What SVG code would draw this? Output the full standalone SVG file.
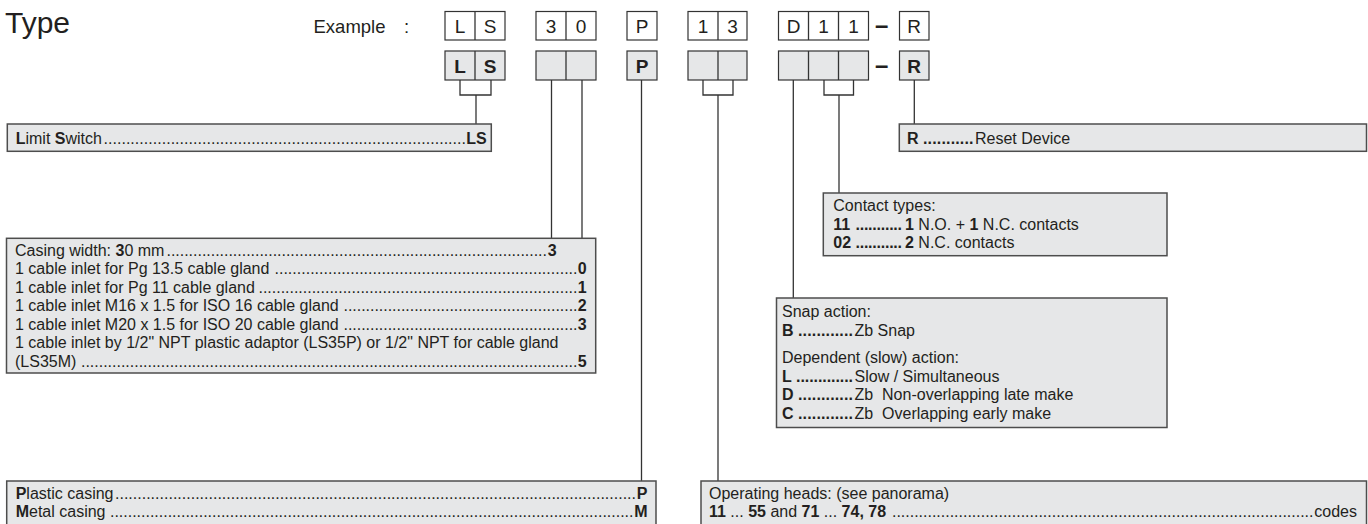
<svg xmlns="http://www.w3.org/2000/svg" width="1368" height="524" viewBox="0 0 1368 524">
<style>
.t{font-family:"Liberation Sans",Arial,sans-serif;font-size:16px;fill:#231f20}
.b{font-weight:bold}
.h{font-family:"Liberation Sans",Arial,sans-serif;font-size:19px;fill:#231f20;text-anchor:middle}
.box{fill:#e6e7e8;stroke:#4d4d4d;stroke-width:1.5}
.c1{fill:#ffffff;stroke:#333333;stroke-width:1.2}
.c2{fill:#e6e7e8;stroke:#333333;stroke-width:1.2}
.conn{stroke:#333333;stroke-width:1.3;fill:none}
.e{text-anchor:end}
</style>
<rect width="1368" height="524" fill="#ffffff"/>
<g id="title">
<text x="5" y="33" style="font-family:'Liberation Sans',Arial,sans-serif;font-size:30px;fill:#231f20">Type</text>
<text x="313.5" y="33.3" style="font-family:'Liberation Sans',Arial,sans-serif;font-size:18.5px;fill:#231f20">Example<tspan x="404">:</tspan></text>
</g>
<g id="example-row">
<rect class="c1" x="445" y="11.5" width="60" height="28.5"/><line class="conn" x1="475" y1="11.5" x2="475" y2="40"/>
<text class="h" x="460" y="33">L</text><text class="h" x="490" y="33">S</text>
<rect class="c1" x="536" y="11.5" width="60" height="28.5"/><line class="conn" x1="566" y1="11.5" x2="566" y2="40"/>
<text class="h" x="551" y="33">3</text><text class="h" x="581" y="33">0</text>
<rect class="c1" x="627" y="11.5" width="30" height="28.5"/>
<text class="h" x="642" y="33">P</text>
<rect class="c1" x="688" y="11.5" width="59" height="28.5"/><line class="conn" x1="718" y1="11.5" x2="718" y2="40"/>
<text class="h" x="703" y="33">1</text><text class="h" x="732.5" y="33">3</text>
<rect class="c1" x="778.5" y="11.5" width="90" height="28.5"/><line class="conn" x1="808.5" y1="11.5" x2="808.5" y2="40"/><line class="conn" x1="838.5" y1="11.5" x2="838.5" y2="40"/>
<text class="h" x="793.5" y="33">D</text><text class="h" x="823.5" y="33">1</text><text class="h" x="853.5" y="33">1</text>
<text class="h b" x="881.7" y="32.8" style="font-size:24px">–</text>
<rect class="c1" x="899.5" y="11.5" width="29.5" height="28.5"/>
<text class="h" x="914.2" y="33">R</text>
</g>
<g id="code-row">
<rect class="c2" x="445" y="51" width="60" height="29"/><line class="conn" x1="475" y1="51" x2="475" y2="80"/>
<text class="h b" x="460" y="73">L</text><text class="h b" x="490" y="73">S</text>
<rect class="c2" x="536" y="51" width="60" height="29"/><line class="conn" x1="566" y1="51" x2="566" y2="80"/>
<rect class="c2" x="627" y="51" width="30" height="29"/>
<text class="h b" x="642" y="73">P</text>
<rect class="c2" x="688" y="51" width="59" height="29"/><line class="conn" x1="718" y1="51" x2="718" y2="80"/>
<rect class="c2" x="778.5" y="51" width="90" height="29"/><line class="conn" x1="808.5" y1="51" x2="808.5" y2="80"/><line class="conn" x1="838.5" y1="51" x2="838.5" y2="80"/>
<text class="h b" x="881.7" y="72.8" style="font-size:24px">–</text>
<rect class="c2" x="899.5" y="51" width="29.5" height="29"/>
<text class="h b" x="914.2" y="73">R</text>
</g>
<g id="connectors">
<polyline class="conn" points="460,80 460,95 491,95 491,80"/>
<line class="conn" x1="476" y1="95" x2="476" y2="124"/>
<line class="conn" x1="551.5" y1="80" x2="551.5" y2="238"/>
<line class="conn" x1="582" y1="80" x2="582" y2="238"/>
<line class="conn" x1="641.5" y1="80" x2="641.5" y2="481"/>
<polyline class="conn" points="703,80 703,95 733,95 733,80"/>
<line class="conn" x1="718" y1="95" x2="718" y2="481"/>
<line class="conn" x1="793.3" y1="80" x2="793.3" y2="298"/>
<polyline class="conn" points="824,80 824,95 853.5,95 853.5,80"/>
<line class="conn" x1="839" y1="95" x2="839" y2="193"/>
<line class="conn" x1="914.3" y1="80" x2="914.3" y2="124"/>
</g>
<g id="limit-switch">
<rect class="box" x="7.3" y="124" width="484" height="27.3"/>
<text class="t" x="15.7" y="143.5"><tspan class="b">L</tspan>imit <tspan class="b">S</tspan>witch</text>
<text class="t" x="103.5" y="143.5" textLength="362.5" lengthAdjust="spacing">.................................................................................</text>
<text class="t b e" x="486.7" y="143.5">LS</text>
</g>
<g id="casing">
<rect class="box" x="6.5" y="238.3" width="589.2" height="134.7"/>
<text class="t" x="15" y="255.5">Casing width: <tspan class="b">3</tspan>0 mm</text>
<text class="t" x="166.5" y="255.5" textLength="380.5" lengthAdjust="spacing">......................................................................................</text>
<text class="t b e" x="556.7" y="255.5">3</text>
<text class="t" x="15" y="274">1 cable inlet for Pg 13.5 cable gland</text>
<text class="t" x="274.5" y="274" textLength="303" lengthAdjust="spacing">....................................................................</text>
<text class="t b e" x="586.7" y="274">0</text>
<text class="t" x="15" y="292.5">1 cable inlet for Pg 11 cable gland</text>
<text class="t" x="258.5" y="292.5" textLength="319" lengthAdjust="spacing">........................................................................</text>
<text class="t b e" x="586.7" y="292.5">1</text>
<text class="t" x="15" y="311">1 cable inlet M16 x 1.5 for ISO 16 cable gland</text>
<text class="t" x="343.5" y="311" textLength="234" lengthAdjust="spacing">.....................................................</text>
<text class="t b e" x="586.7" y="311">2</text>
<text class="t" x="15" y="329.5">1 cable inlet M20 x 1.5 for ISO 20 cable gland</text>
<text class="t" x="343.5" y="329.5" textLength="234" lengthAdjust="spacing">.....................................................</text>
<text class="t b e" x="586.7" y="329.5">3</text>
<text class="t" x="15" y="348">1 cable inlet by 1/2" NPT plastic adaptor (LS35P) or 1/2" NPT for cable gland</text>
<text class="t" x="15" y="366.5">(LS35M)</text>
<text class="t" x="81" y="366.5" textLength="496.5" lengthAdjust="spacing">................................................................................................................</text>
<text class="t b e" x="586.7" y="366.5">5</text>
</g>
<g id="casing-material">
<rect class="box" x="6.7" y="481" width="649.3" height="60"/>
<text class="t" x="15.7" y="498.5"><tspan class="b">P</tspan>lastic casing</text>
<text class="t" x="115" y="498.5" textLength="521" lengthAdjust="spacing">.....................................................................................................................</text>
<text class="t b e" x="647.5" y="498.5">P</text>
<text class="t" x="15.7" y="516.7"><tspan class="b">M</tspan>etal casing</text>
<text class="t" x="110" y="516.7" textLength="523.5" lengthAdjust="spacing">......................................................................................................................</text>
<text class="t b e" x="647.5" y="516.7">M</text>
</g>
<g id="operating-heads">
<rect class="box" x="701" y="481" width="665.5" height="60"/>
<text class="t" x="709" y="498.5">Operating heads: (see panorama)</text>
<text class="t" x="709" y="516.7"><tspan class="b">11</tspan> ... <tspan class="b">55</tspan> and <tspan class="b">71</tspan> ... <tspan class="b">74, 78</tspan></text>
<text class="t" x="892" y="516.7" textLength="421.5" lengthAdjust="spacing">...............................................................................................</text>
<text class="t e" x="1357" y="516.7">codes</text>
</g>
<g id="reset">
<rect class="box" x="899.3" y="124" width="467.2" height="27.3"/>
<text class="t b" x="907" y="143.5">R</text>
<text class="t b" x="923" y="143.5" textLength="50.5" lengthAdjust="spacing">...........</text>
<text class="t" x="975" y="143.5">Reset Device</text>
</g>
<g id="contact-types">
<rect class="box" x="823.3" y="193" width="343.7" height="62.7"/>
<text class="t" x="833.3" y="211">Contact types:</text>
<text class="t b" x="833.3" y="229.5">11</text>
<text class="t b" x="855.5" y="229.5" textLength="46.5" lengthAdjust="spacing">...........</text>
<text class="t" x="905" y="229.5"><tspan class="b">1</tspan> N.O. + <tspan class="b">1</tspan> N.C. contacts</text>
<text class="t b" x="833.3" y="247.5">02</text>
<text class="t b" x="855.5" y="247.5" textLength="46.5" lengthAdjust="spacing">...........</text>
<text class="t" x="905" y="247.5"><tspan class="b">2</tspan> N.C. contacts</text>
</g>
<g id="action">
<rect class="box" x="776.5" y="298" width="390.5" height="129.5"/>
<text class="t" x="782" y="316.5">Snap action:</text>
<text class="t b" x="782" y="335.5">B</text>
<text class="t b" x="798" y="335.5" textLength="55" lengthAdjust="spacing">............</text>
<text class="t" x="854.5" y="335.5">Zb Snap</text>
<text class="t" x="782" y="363">Dependent (slow) action:</text>
<text class="t b" x="782" y="381.5">L</text>
<text class="t b" x="796" y="381.5" textLength="57" lengthAdjust="spacing">.............</text>
<text class="t" x="854.5" y="381.5">Slow / Simultaneous</text>
<text class="t b" x="782" y="400">D</text>
<text class="t b" x="798" y="400" textLength="55" lengthAdjust="spacing">............</text>
<text class="t" x="854.5" y="400" xml:space="preserve">Zb  Non-overlapping late make</text>
<text class="t b" x="782" y="418.5">C</text>
<text class="t b" x="798" y="418.5" textLength="55" lengthAdjust="spacing">............</text>
<text class="t" x="854.5" y="418.5" xml:space="preserve">Zb  Overlapping early make</text>
</g>
</svg>
